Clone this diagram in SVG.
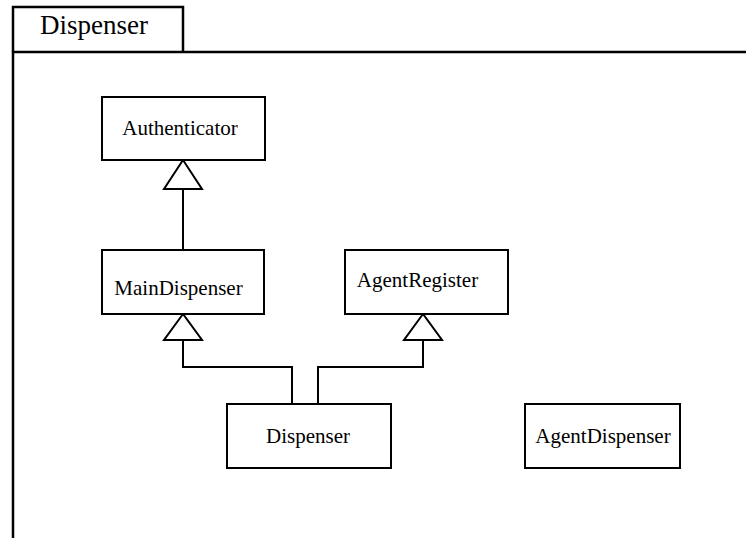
<svg xmlns="http://www.w3.org/2000/svg" width="746" height="538" viewBox="0 0 746 538">
  <style>
    .box { fill: #fff; stroke: #000; stroke-width: 2; }
    .frame { fill: none; stroke: #000; stroke-width: 2.5; }
    .edge { fill: none; stroke: #000; stroke-width: 2; }
    .gen { fill: #fff; stroke: #000; stroke-width: 2; }
    text { font-family: "Liberation Serif", "Times New Roman", serif; fill: #000; }
    .lbl { font-size: 21px; text-anchor: middle; }
    .title { font-size: 27px; }
  </style>
  <rect width="746" height="538" fill="#fff"/>

  <!-- package frame with name tab -->
  <g id="package">
    <path class="frame" d="M13,538 V52 H746"/>
    <path class="frame" d="M13,52 V7 H183 V52" stroke-width="2"/>
    <text class="title" x="40" y="34">Dispenser</text>
  </g>

  <!-- generalization connectors -->
  <g id="connectors">
    <line class="edge" x1="183" y1="189" x2="183" y2="250"/>
    <polygon class="gen" points="183,160 164,189 202,189"/>
    <polyline class="edge" points="292,404 292,367 183,367 183,340"/>
    <polygon class="gen" points="183,314 164,340 202,340"/>
    <polyline class="edge" points="318,404 318,367 423,367 423,340"/>
    <polygon class="gen" points="423,314 404,340 442,340"/>
  </g>

  <g id="authenticator">
    <rect class="box" x="102" y="97" width="163" height="63"/>
    <text class="lbl" x="180" y="135">Authenticator</text>
  </g>
  <g id="mainDispenser">
    <rect class="box" x="102" y="250" width="162" height="64"/>
    <text class="lbl" x="178.5" y="295">MainDispenser</text>
  </g>
  <g id="agentRegister">
    <rect class="box" x="345" y="250" width="163" height="64"/>
    <text class="lbl" x="417.5" y="287">AgentRegister</text>
  </g>
  <g id="dispenser">
    <rect class="box" x="227" y="404" width="164" height="64"/>
    <text class="lbl" x="308" y="443">Dispenser</text>
  </g>
  <g id="agentDispenser">
    <rect class="box" x="525" y="404" width="155" height="64"/>
    <text class="lbl" x="603" y="443">AgentDispenser</text>
  </g>
</svg>
